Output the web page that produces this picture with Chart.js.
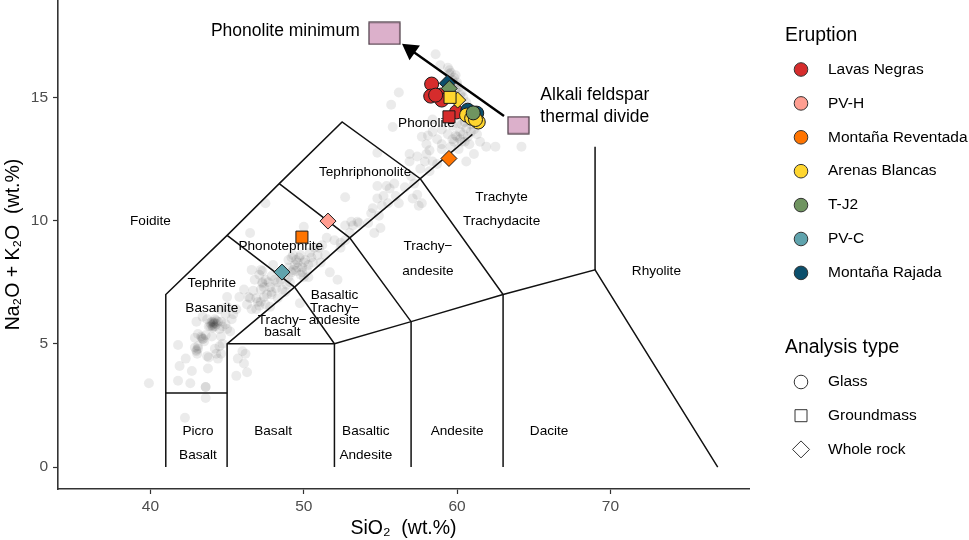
<!DOCTYPE html>
<html>
<head>
<meta charset="utf-8">
<style>
  html, body { margin: 0; padding: 0; background: #fff; }
  #wrap { width: 969px; height: 540px; }
</style>
<script src="https://cdn.jsdelivr.net/npm/chart.js@4"></script>
</head>
<body>
<div id="wrap"><canvas id="tas"></canvas></div>
<script>
// axis ticks
const xTicks = [40, 50, 60, 70];
const yTicks = [0, 5, 10, 15];

// grey background analyses [SiO2, alkalis]
const basaniteField = [[39.9,3.4],[41.8,4.95],[42.3,4.4],[41.9,4.1],[41.8,3.5],[42.6,3.4],[43.6,3.25],[43.6,3.25],[43.6,2.8],[42.25,2.0],
  [43.75,4.0],[44.1,5.8],[44.1,5.9],[44.2,5.7],[44,5.75],[43.9,5.85],[44.3,5.8],[44.2,6.0],[44.05,5.65],[44.4,5.9],[43.8,5.7],[43.7,6.0],[44.5,5.6],
  [43.4,5.2],[43.3,5.3],[43.5,5.1],[43.6,5.35],[43.0,4.75],[43.05,4.6],[43.1,4.9],[42.9,4.85],[43.1,5.4],[43.0,5.9],[43.4,6.1],[44.6,5.3],[44.7,5.0],
  [44.3,4.6],[44.5,4.9],[43.8,4.45],[43.7,4.5],[44.2,4.8],[44.4,4.4],[44.6,4.6],[45.0,5.6],[45.3,6.0],[44.9,6.2],[44.5,6.4],[45.4,6.2],
  [45.7,4.4],[46.2,4.6],[46.1,4.2],[45.6,3.7],[46.3,3.85],[46.0,4.7],[42.7,3.9],[44.0,5.3],[44.6,5.9],[45.0,6.5],
  [44.1,5.85],[44.0,5.9],[44.2,5.85],[44.1,5.7],[43.9,5.7],[44.3,5.95],[43.35,5.25],[43.45,5.2],[43.0,4.7],[43.1,4.8],[44.7,5.7],[44.9,5.8],[45.2,5.5],[42.9,5.25],[45.0,6.9],[45.6,6.4]];
const tephriteField = [[46.5,6.85],[46.9,6.85],[47.2,6.7],[46.7,7.15],[47.3,7.45],[47.8,7.3],[47.6,7.0],[47.1,6.55],[46.6,6.4],[47.4,6.9],
  [47.8,6.5],[46.3,6.6],[45.8,6.9],[48.2,7.25],[48.6,7.2],[48.3,6.85],[48.9,7.4],[49.75,6.65],[47.3,7.95],[47.2,8.0],[47.9,7.75],[48.0,8.2],[46.6,8.0],[46.5,9.5],[47.5,10.7],
  [47.3,7.5],[47.4,7.3],[47.5,7.6],[47.2,7.2],[47.7,7.5],[47.9,7.1],[48.1,7.6],[48.3,7.5],[47.1,7.8],[46.8,7.6],[46.4,6.9],[46.1,7.2],[47.0,6.7],[47.5,6.6],[47.9,7.0],[48.5,7.6],[48.8,7.1],[49.1,7.5],[46.9,6.4]];
const phonotephriteField = [[49.6,8.3],[49.7,8.5],[49.4,8.2],[49.9,8.1],[49.5,7.95],[49.8,7.8],[50.1,8.4],[50.3,8.2],[49.2,7.9],[49.0,8.1],
  [50.0,7.7],[50.4,8.7],[50.7,8.9],[51.0,8.9],[51.2,9.0],[50.6,8.3],[49.3,8.6],[49.0,8.4],[48.8,7.8],[50.0,9.75],[51.7,7.9],[52.2,7.6],[52.4,9.1],[52.7,9.2],[52.0,9.2],
  [51.5,9.3],[53.2,9.8],[53.6,9.9],[53.0,9.5],[51.4,8.6],[52.4,8.9],
  [49.5,8.4],[49.8,8.6],[50.0,8.3],[49.3,8.0],[49.6,8.1],[49.9,7.9],[50.2,8.0],[50.5,8.5],[49.2,8.5],[50.9,8.6],[49.0,7.7],[50.3,7.7],[51.1,8.3]];
const tephriphonoliteField = [[54.8,12.75],[56.9,12.7],[57.4,12.6],[58.2,12.85],[57.7,13.4],[52.7,10.95],[54.8,11.4],[55.4,11.4],[55.6,11.3],[56.6,11.35],
  [57.4,11.05],[57.7,10.7],[54.8,10.9],[55.1,10.6],[54.5,10.5],[54.4,10.3],[53.5,9.95],[53.1,9.95],[52.7,9.8],[55.5,10.7],[55.2,11.0],[56.0,11.0],[56.2,10.7],[57.0,11.8],
  [57.6,12.1],[57.2,11.5],[57.1,10.9],[57.5,10.6],[58.0,12.7],[58.4,12.4],[58.2,12.0],[59.0,12.9],[54.9,10.2],[55.0,9.7],[54.6,9.5],[54.2,9.9],[55.9,11.5],[56.9,12.4]];
const phonoliteField = [[58.1,13.45],[58.7,13.3],[59.0,13.1],[59.6,13.0],[59.9,13.45],[60.3,13.2],[60.7,13.4],[61.1,13.7],[59.4,13.5],[59.0,13.7],
  [59.7,13.85],[60.0,13.95],[60.3,13.9],[60.6,13.75],[60.9,13.9],[61.3,13.5],[61.5,13.2],[60.1,12.9],[61.1,12.7],[60.6,12.4],[61.9,13.0],[62.5,13.0],[64.2,13.0],
  [59.4,12.6],[58.7,12.3],[59.7,13.3],[60.2,13.6],[58.4,14.1],[58.0,13.1],[60.5,14.0],[61.5,14.1],[56.2,15.2],[55.7,14.7],[55.8,13.8],[58.6,16.75],
  [59.5,16.1],[59.9,15.9],[59.7,15.7],[60.0,15.6],[60.1,15.4],[59.5,15.95],[59.9,15.3],[60.3,15.2],[59.4,16.2],[58.9,16.3],[60.4,15.0],[60.6,14.8],
  [60.0,13.4],[60.2,13.3],[60.4,13.5],[60.5,13.2],[59.8,13.2],[60.8,13.1],[61.4,13.9],[59.6,16.0],[59.8,15.8],[60.0,15.5],[60.2,15.1],[60.5,14.3],[60.9,13.6],[58.4,13.6],[57.9,12.4]];

// highlighted eruptions [SiO2, alkalis]
const lavasNegrasGlass = [[58.34,15.54],[58.28,15.05],[58.93,15.09],[59.0,14.89],[58.6,15.09],[59.97,14.41]];
const lavasNegrasGround = [[59.47,14.21]];
const pvhWhole = [[51.58,9.98]];
const reventadaGround = [[49.88,9.33]];
const reventadaWhole = [[59.47,12.52]];
const arenasGlass = [[60.62,14.28],[60.95,14.15],[61.38,14.0],[61.2,14.1]];
const arenasGround = [[59.54,15.0]];
const arenasWhole = [[60.04,14.89]];
const tj2Glass = [[61.05,14.37]];
const tj2Whole = [[59.49,15.36]];
const pvcWhole = [[48.58,7.91]];
const rajadaGlass = [[60.7,14.48],[61.28,14.36]];
const rajadaWhole = [[59.36,15.57]];

// TAS field boundaries
const tasLines = [
  [[41,0],[41,7],[45,9.4],[48.4,11.5],[52.5,14],[57.6,11.7],[63,7],[63,0]],
  [[41,3],[45,3]],
  [[45,0],[45,5],[49.4,7.3],[53,9.3],[57.6,11.7],[61,13.5]],
  [[45,5],[52,5],[57,5.9],[63,7],[69,8],[77,0]],
  [[52,0],[52,5],[49.4,7.3],[45,9.4]],
  [[48.4,11.5],[53,9.3],[57,5.9],[57,0]],
  [[69,13],[69,8]]
];
const arrowPath = [[63.06,14.24],[56.96,16.93]];
const phonoliteMinimum = [[55.26,17.6]];
const alkaliDivide = [[64.0,13.87]];

const fieldLabels = [
  ['Foidite',40,10],['Picro',43.1,1.5],['Basalt',43.1,0.5],['Basalt',48,1.5],['Basaltic',54.05,1.5],['Andesite',54.05,0.5],
  ['Andesite',60,1.5],['Dacite',66,1.5],['Rhyolite',73,8],['Trachyte',62.9,11],['Trachydacite',62.9,10],['Trachy\u2212',58.1,9],['andesite',58.1,8],
  ['Phonolite',58,14],['Tephriphonolite',54,12],['Phonotephrite',48.5,9],['Tephrite',44,7.5],['Basanite',44,6.5],
  ['Basaltic',52,7],['Trachy\u2212',52,6.5],['andesite',52,6],['Trachy\u2212',48.6,6],['basalt',48.6,5.5]
];
const noteLabels = [['Phonolite minimum',53.65,17.7,'right'],['Alkali feldspar',65.43,15.1,'left'],['thermal divide',65.43,14.2,'left']];

const eruptionNames = ['Lavas Negras','PV-H','Monta\u00f1a Reventada','Arenas Blancas','T-J2','PV-C','Monta\u00f1a Rajada'];
const eruptionColors = ['#d62c2c','#ff9e91','#ff7400','#ffd62f','#6f9460','#5fa3ad','#0b4f6c'];
const analysisNames = ['Glass','Groundmass','Whole rock'];

function pts(list) { return list.map(p => ({x: p[0], y: p[1]})); }

// box marker for the two composition points, w x h pixels
function boxMark(w, h) {
  const c = document.createElement('canvas');
  c.width = w + 2; c.height = h + 2;
  const g = c.getContext('2d');
  g.fillStyle = '#dcb0cb';
  g.strokeStyle = '#4a3a44';
  g.lineWidth = 1.2;
  g.fillRect(1, 1, w, h);
  g.strokeRect(1, 1, w, h);
  return c;
}

const datasets = [];
function marks(list, color, style, radius) {
  datasets.push({data: pts(list), pointStyle: style, pointRadius: radius, pointHoverRadius: radius,
    backgroundColor: color, borderColor: '#1a1a1a', pointBorderWidth: 1, showLine: false});
}
// first dataset ends up on top
marks(arenasGround, eruptionColors[3], 'rect', 8.5);
marks(lavasNegrasGround, eruptionColors[0], 'rect', 8.5);
marks(reventadaGround, eruptionColors[2], 'rect', 8.5);
marks(tj2Glass, eruptionColors[4], 'circle', 7);
marks(arenasGlass, eruptionColors[3], 'circle', 7);
marks(rajadaGlass, eruptionColors[6], 'circle', 7);
marks(tj2Whole, eruptionColors[4], 'rectRot', 8);
marks(arenasWhole, eruptionColors[3], 'rectRot', 8);
marks(rajadaWhole, eruptionColors[6], 'rectRot', 8);
marks(lavasNegrasGlass, eruptionColors[0], 'circle', 7);
marks(pvhWhole, eruptionColors[1], 'rectRot', 8);
marks(reventadaWhole, eruptionColors[2], 'rectRot', 8);
marks(pvcWhole, eruptionColors[5], 'rectRot', 8);

datasets.push({data: pts(phonoliteMinimum), pointStyle: boxMark(31, 22), showLine: false});
datasets.push({data: pts(alkaliDivide), pointStyle: boxMark(21, 17), showLine: false});

// arrow between the two boxes, head is a rotated triangle on the last point
datasets.push({data: pts(arrowPath), showLine: true, borderColor: '#000', borderWidth: 2.4,
  pointStyle: 'triangle', pointRadius: [0, 8], pointRotation: -54.6, backgroundColor: '#000', pointBorderColor: '#000'});

tasLines.forEach(line => datasets.push({data: pts(line), showLine: true, borderColor: '#111', borderWidth: 1.5, pointRadius: 0}));

[basaniteField, tephriteField, phonotephriteField, tephriphonoliteField, phonoliteField].forEach(f => {
  datasets.push({data: pts(f), showLine: false, pointRadius: 5, pointBorderWidth: 0, backgroundColor: 'rgba(0,0,0,0.08)'});
});

const FONT = '"Liberation Sans", Arial, sans-serif';

const labelPlugin = {
  id: 'labels',
  beforeDatasetsDraw(chart) {
    const ctx = chart.ctx, sx = chart.scales.x, sy = chart.scales.y;
    ctx.save();
    ctx.textBaseline = 'middle';
    ctx.fillStyle = '#000';
    ctx.textAlign = 'center';
    ctx.font = '13.6px ' + FONT;
    fieldLabels.forEach(l => ctx.fillText(l[0], sx.getPixelForValue(l[1]), sy.getPixelForValue(l[2]) + 1));
    ctx.font = '17.5px ' + FONT;
    noteLabels.forEach(l => {
      ctx.textAlign = l[3];
      ctx.fillText(l[0], sx.getPixelForValue(l[1]), sy.getPixelForValue(l[2]));
    });
    ctx.restore();
  },
  afterDraw(chart) {
    const ctx = chart.ctx;
    ctx.save();
    ctx.textBaseline = 'middle';
    ctx.textAlign = 'left';
    ctx.fillStyle = '#000';
    ctx.font = '19.4px ' + FONT;
    ctx.fillText('Eruption', 785, 35.5);
    ctx.fillText('Analysis type', 785, 348);
    ctx.font = '15.5px ' + FONT;
    ctx.lineWidth = 1;
    eruptionNames.forEach((n, i) => {
      const y = 69.5 + i * 33.9;
      ctx.beginPath();
      ctx.arc(801, y, 6.8, 0, Math.PI * 2);
      ctx.fillStyle = eruptionColors[i];
      ctx.fill();
      ctx.strokeStyle = '#333';
      ctx.stroke();
      ctx.fillStyle = '#000';
      ctx.fillText(n, 828, y);
    });
    analysisNames.forEach((n, i) => {
      const y = 382 + i * 33.7;
      ctx.fillStyle = '#000';
      ctx.fillText(n, 828, y);
      ctx.strokeStyle = '#333';
      ctx.beginPath();
      if (i === 0) ctx.arc(801, y, 6.8, 0, Math.PI * 2);
      if (i === 1) ctx.rect(795, y - 6, 12, 12);
      if (i === 2) { ctx.moveTo(801, y - 8.5); ctx.lineTo(809.5, y); ctx.lineTo(801, y + 8.5); ctx.lineTo(792.5, y); ctx.closePath(); }
      ctx.stroke();
    });
    ctx.restore();
  }
};

new Chart(document.getElementById('tas'), {
  type: 'scatter',
  data: {datasets: datasets},
  plugins: [labelPlugin],
  options: {
    responsive: true,
    maintainAspectRatio: false,
    animation: false,
    layout: {autoPadding: false, padding: {left: 0, top: 0, right: 220, bottom: 0}},
    plugins: {legend: {display: false}, tooltip: {enabled: false}},
    scales: {
      x: {
        type: 'linear', min: 33.97, max: 79.04,
        afterBuildTicks: s => { s.ticks = xTicks.map(v => ({value: v})); },
        afterFit: s => { s.height = 51; s.paddingLeft = 0; s.paddingRight = 0; },
        grid: {drawOnChartArea: false, tickLength: 5, tickColor: '#333', tickWidth: 1.2},
        border: {color: '#333', width: 1.6},
        ticks: {color: '#4d4d4d', font: {size: 15.5, family: FONT}, padding: 3, maxRotation: 0},
        title: {display: true, text: 'SiO\u2082  (wt.%)', color: '#000', font: {size: 19.5, family: FONT}, padding: 0}
      },
      y: {
        type: 'linear', min: -0.89, max: 18.95,
        afterBuildTicks: s => { s.ticks = yTicks.map(v => ({value: v})); },
        afterFit: s => { s.width = 58; s.paddingTop = 0; s.paddingBottom = 0; },
        grid: {drawOnChartArea: false, tickLength: 5, tickColor: '#333', tickWidth: 1.2},
        border: {color: '#333', width: 1.6},
        ticks: {color: '#4d4d4d', font: {size: 15.5, family: FONT}, padding: 5},
        title: {display: true, text: 'Na\u2082O + K\u2082O  (wt.%)', color: '#000', font: {size: 19.5, family: FONT}, padding: {top: 2, bottom: 0}}
      }
    }
  }
});
</script>
</body>
</html>
